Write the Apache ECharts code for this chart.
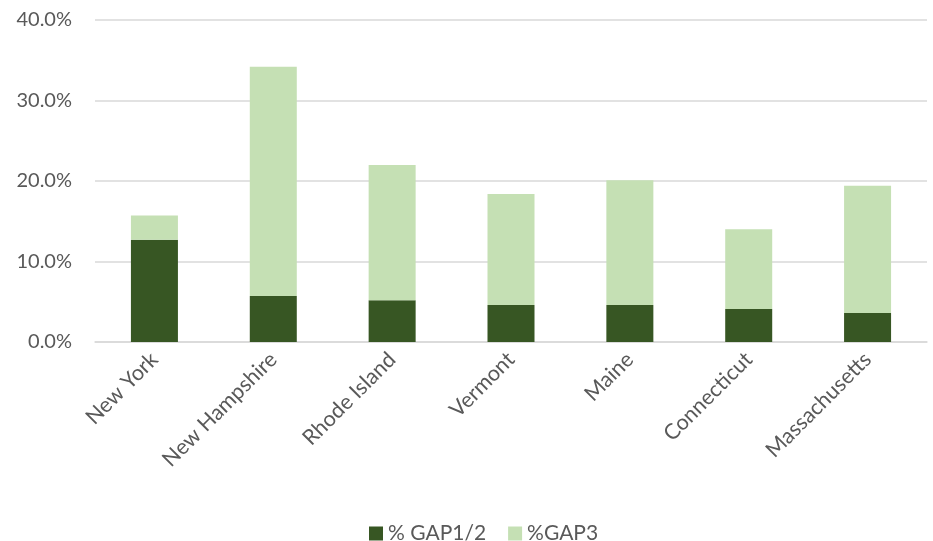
<!DOCTYPE html>
<html>
<head>
<meta charset="utf-8">
<script src="https://cdn.jsdelivr.net/npm/echarts@6/dist/echarts.min.js"></script>
<style>
	html, body { margin: 0; padding: 0; background: #fff; }
	#gapChart { width: 933px; height: 541px; }
</style>
</head>
<body>
<div id="gapChart"></div>
<script>
// 数据
var states = ['New York', 'New Hampshire', 'Rhode Island', 'Vermont', 'Maine', 'Connecticut', 'Massachusetts'];
var gap12 = [12.7, 5.7, 5.2, 4.6, 4.6, 4.1, 3.6];
var gap3 = [3.0, 28.5, 16.8, 13.8, 15.5, 9.9, 15.8];
var yTicks = [0, 10, 20, 30, 40];

var textColor = '#595959';
var fontName = 'Lato, "Open Sans", sans-serif';

var gapChart = echarts.init(document.getElementById('gapChart'));
var gapOption = {
	animation: false,
	grid: {
		left: 95,
		right: 6,
		top: 20,
		bottom: 199
	},
	legend: {
		left: 364,
		top: 518,
		itemWidth: 14,
		itemHeight: 14,
		itemGap: 22,
		selectedMode: false,
		icon: 'rect',
		textStyle: {
			color: textColor,
			fontSize: 21,
			fontFamily: fontName
		},
		data: ['% GAP1/2', '%GAP3']
	},
	xAxis: {
		type: 'category',
		data: states,
		axisLine: {
			lineStyle: { color: '#d9d9d9', width: 1.5 }
		},
		axisTick: { show: false },
		axisLabel: {
			rotate: 45,
			margin: 14,
			interval: 0,
			color: textColor,
			fontSize: 21.5,
			fontFamily: fontName
		}
	},
	yAxis: {
		type: 'value',
		min: yTicks[0],
		max: yTicks[yTicks.length - 1],
		interval: 10,
		axisLine: { show: false },
		axisTick: { show: false },
		splitLine: {
			lineStyle: { color: '#d9d9d9', width: 1.5 }
		},
		axisLabel: {
			margin: 23,
			color: textColor,
			fontSize: 20,
			fontFamily: fontName,
			formatter: function (v) {
				return v.toFixed(1) + '%';
			}
		}
	},
	series: [
		{
			name: '% GAP1/2',
			type: 'bar',
			stack: 'gap',
			barWidth: 47,
			data: gap12
		},
		{
			name: '%GAP3',
			type: 'bar',
			stack: 'gap',
			barWidth: 47,
			data: gap3
		}
	],
	color: ['#375623', '#c5e0b4']
};
gapChart.setOption(gapOption);
</script>
</body>
</html>
